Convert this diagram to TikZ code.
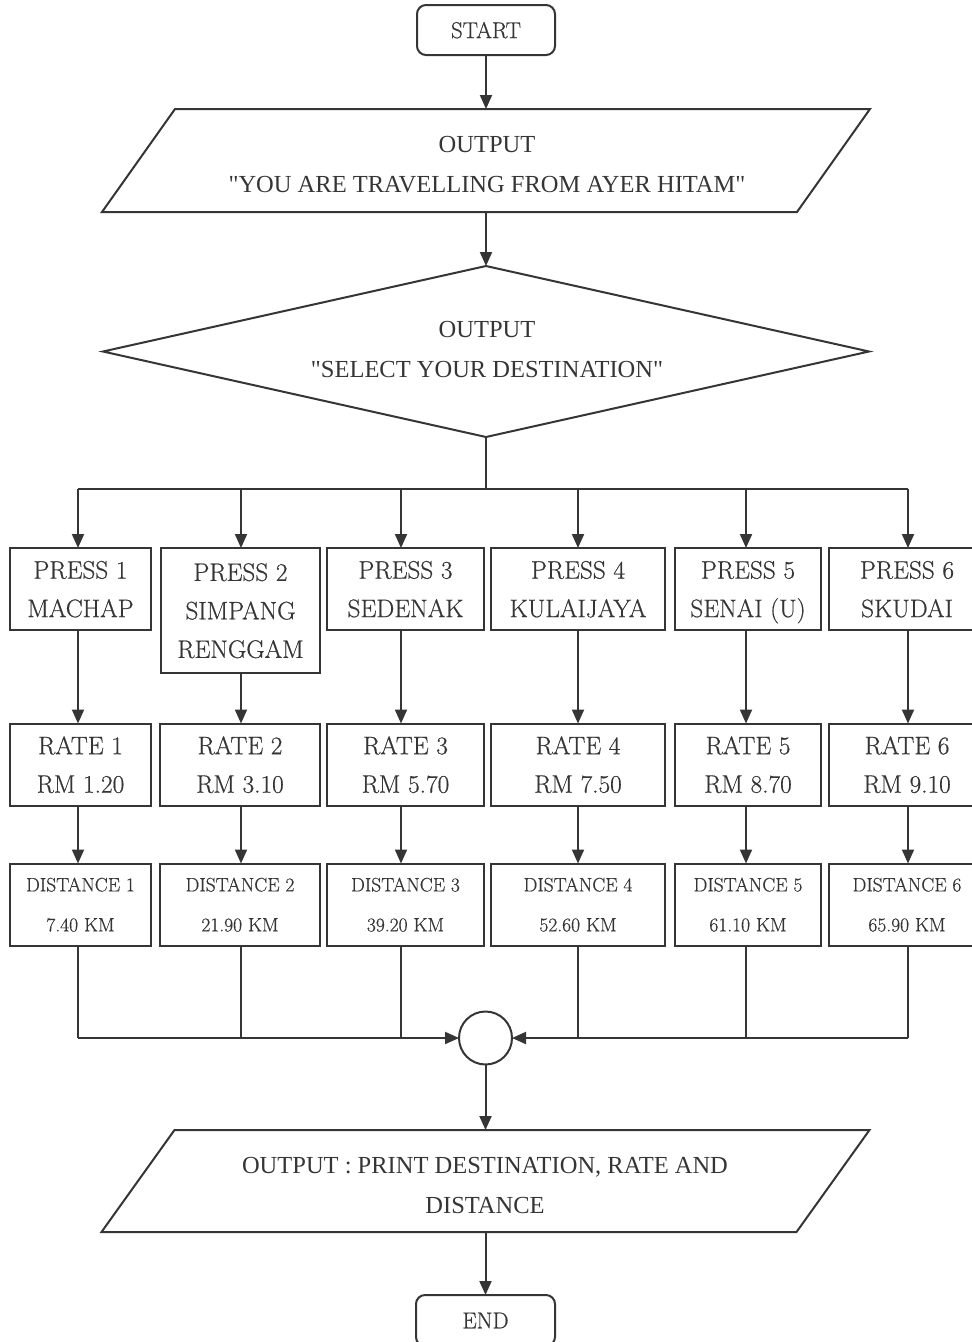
\documentclass[tikz,border=0pt]{standalone}
\usepackage{fontspec}
\usetikzlibrary{arrows.meta,calc}
\newfontfamily\outfont{Liberation Serif}
\newfontfamily\boxfont{Latin Modern Roman}[FakeBold=0.6]
\definecolor{ink}{HTML}{353535}
\tikzset{
  box/.style={draw=ink, line width=2pt, text=ink, align=center, inner sep=0pt, outer sep=0pt, text depth=0pt, font=\boxfont\fontsize{25.3}{38.5}\selectfont},
  dbox/.style={box, font=\boxfont\fontsize{19.5}{40}\selectfont},
  term/.style={box, rounded corners=9pt, font=\boxfont\fontsize{22.8}{26}\selectfont},
  shapenode/.style={inner sep=0pt, outer sep=0pt},
  shapetext/.style={text=ink, align=center, inner sep=0pt, outer sep=0pt, font=\outfont\fontsize{24.5}{40}\selectfont},
  line/.style={draw=ink, line width=2pt},
  arr/.style={line, -{Triangle[length=14pt,width=12pt]}},
  shapeline/.style={draw=ink, line width=2pt, line join=miter}
}
\begin{document}
\begin{tikzpicture}[x=1pt,y=-1pt]
\useasboundingbox (0,0) rectangle (972,1342);

% terminals
\node[term, minimum width=138pt, minimum height=50pt] (start) at (486,30) {START};
\node[term, minimum width=139pt, minimum height=51pt] (end) at (485.5,1320.5) {END};

% output parallelogram 1
\node[shapenode, minimum width=768pt, minimum height=103pt] (o1) at (486,160.5) {};
\draw[shapeline] ($(o1.north west)+(73,0)$) -- (o1.north east) -- ($(o1.south east)+(-73,0)$) -- (o1.south west) -- cycle;
\node[shapetext] (o1t) at (487,165) {OUTPUT\\"YOU ARE TRAVELLING FROM AYER HITAM"};

% diamond
\node[shapenode, minimum width=766pt, minimum height=171pt] (sel) at (486,351.5) {};
\draw[shapeline] (sel.west) -- (sel.north) -- (sel.east) -- (sel.south) -- cycle;
\node[shapetext] (selt) at (487,350) {OUTPUT\\"SELECT YOUR DESTINATION"};

% output parallelogram 2
\node[shapenode, minimum width=768pt, minimum height=102pt] (o2) at (485.5,1181) {};
\draw[shapeline] ($(o2.north west)+(73,0)$) -- (o2.north east) -- ($(o2.south east)+(-73,0)$) -- (o2.south west) -- cycle;
\node[shapetext] (o2t) at (485,1185) {OUTPUT : PRINT DESTINATION, RATE AND\\DISTANCE};

% junction
\node[draw=ink, line width=2pt, circle, minimum size=53pt, inner sep=0pt, outer sep=0pt] (j) at (485.5,1038) {};

% column coordinates
\coordinate (b1) at (78,489);
\coordinate (b2) at (241,489);
\coordinate (b3) at (401,489);
\coordinate (b4) at (578,489);
\coordinate (b5) at (746,489);
\coordinate (b6) at (908,489);

% press boxes
\node[box, minimum width=141pt, minimum height=82pt] (p1) at (80.5,589) {PRESS 1\\MACHAP};
\node[box, minimum width=159pt, minimum height=125pt] (p2) at (240.5,610.5) {PRESS 2\\SIMPANG\\RENGGAM};
\node[box, minimum width=157pt, minimum height=82pt] (p3) at (405.5,589) {PRESS 3\\SEDENAK};
\node[box, minimum width=174pt, minimum height=82pt] (p4) at (578,589) {PRESS 4\\KULAIJAYA};
\node[box, minimum width=146pt, minimum height=82pt] (p5) at (748,589) {PRESS 5\\SENAI (U)};
\node[box, minimum width=156pt, minimum height=82pt] (p6) at (907,589) {PRESS 6\\SKUDAI};

% rate boxes
\node[box, minimum width=141pt, minimum height=82pt] (r1) at (80.5,764.5) {RATE 1\\RM 1.20};
\node[box, minimum width=160pt, minimum height=82pt] (r2) at (240,764.5) {RATE 2\\RM 3.10};
\node[box, minimum width=157pt, minimum height=82pt] (r3) at (405.5,764.5) {RATE 3\\RM 5.70};
\node[box, minimum width=174pt, minimum height=82pt] (r4) at (578,764.5) {RATE 4\\RM 7.50};
\node[box, minimum width=146pt, minimum height=82pt] (r5) at (748,764.5) {RATE 5\\RM 8.70};
\node[box, minimum width=156pt, minimum height=82pt] (r6) at (907,764.5) {RATE 6\\RM 9.10};

% distance boxes
\node[dbox, minimum width=141pt, minimum height=82pt] (d1) at (80.5,904.5) {DISTANCE 1\\7.40 KM};
\node[dbox, minimum width=160pt, minimum height=82pt] (d2) at (240,904.5) {DISTANCE 2\\21.90 KM};
\node[dbox, minimum width=157pt, minimum height=82pt] (d3) at (405.5,904.5) {DISTANCE 3\\39.20 KM};
\node[dbox, minimum width=174pt, minimum height=82pt] (d4) at (578,904.5) {DISTANCE 4\\52.60 KM};
\node[dbox, minimum width=146pt, minimum height=82pt] (d5) at (748,904.5) {DISTANCE 5\\61.10 KM};
\node[dbox, minimum width=156pt, minimum height=82pt] (d6) at (907,904.5) {DISTANCE 6\\65.90 KM};

% connectors top
\draw[arr] (start.south) -- (start.south |- o1.north);
\draw[arr] (o1.south -| sel.north) -- (sel.north);
\draw[line] (sel.south) -- (sel.south |- b1);
\draw[line] (b1) -- (b6);
\foreach \i in {1,...,6}{
  \draw[arr] (b\i) -- (b\i |- p\i.north);
  \draw[arr] (b\i |- p\i.south) -- (b\i |- r\i.north);
  \draw[arr] (b\i |- r\i.south) -- (b\i |- d\i.north);
  \draw[line] (b\i |- d\i.south) -- (b\i |- j);
}
\draw[arr] (b1 |- j) -- (j.west);
\draw[arr] (b6 |- j) -- (j.east);

% bottom
\draw[arr] (j.south) -- (j.south |- o2.north);
\draw[arr] (o2.south -| end.north) -- (end.north);
\end{tikzpicture}
\end{document}
